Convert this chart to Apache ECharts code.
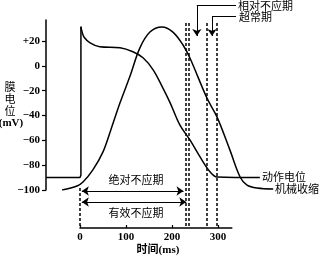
<!DOCTYPE html>
<html>
<head>
<meta charset="utf-8">
<script src="https://cdn.jsdelivr.net/npm/echarts@6/dist/echarts.min.js"></script>
<style>html,body{margin:0;padding:0;background:#fff}#c{width:320px;height:259px}</style>
</head>
<body>
<div id="c"></div>
<script>
// ---- data (time in ms, membrane potential in mV) ----
const yTicks = [-100, -80, -60, -40, -20, 0, 20];
const xTicks = [0, 100, 200, 300];
const apTime = [-74, 0, 2, 2, 4, 9, 22, 43, 87, 115, 137, 159, 180, 196, 217, 239, 261, 283, 298, 391];
const apVolt = [-90, -90, -88, 31.5, 28, 23, 18.5, 15.3, 14.5, 11.3, 6.5, -3.2, -17.7, -29.8, -47.6, -59.7, -73.4, -85.5, -89.5, -90];
const mechTime = [-39, -6.5, 6.5, 28, 50, 67, 87, 109, 130, 152, 178, 202, 224, 239, 276, 298, 326, 348, 363, 385, 420];
const mechVolt = [-100, -96.8, -93.6, -83.8, -69.3, -51.6, -29.8, -8, 14.3, 27.2, 31.3, 27.2, 16.8, 6.3, -26, -41.3, -67.9, -89.5, -96, -98.4, -99.2];
const periodBounds = [229, 237, 275, 297];      // dashed boundaries (ms)
const absArrow = [4, 225];                      // 绝对不应期 arrow span
const effArrow = [4, 231];                      // 有效不应期 arrow span
const relPointer = 254;                         // 相对不应期 pointer
const supPointer = 287;                         // 超常期 pointer

// ---- layout (pixels) ----
const PX_T0 = 80, PX_PER_T = 0.46, PY_V0 = 65.83, PX_PER_V = 1.2417;
const tAt = px => (px - PX_T0) / PX_PER_T;
const vAt = py => (PY_V0 - py) / PX_PER_V;

const FONT = "'Liberation Serif','Noto Sans CJK SC'";
const CJK = "'Noto Sans CJK SC'";

const pairs = (xs, ys) => xs.map((x, i) => [x, ys[i]]);
const ap = pairs(apTime, apVolt);
const mech = pairs(mechTime, mechVolt);

const dashTop = vAt(23), axisV = vAt(228);
const dashed = periodBounds.map(t => ({coords: [[t, dashTop], [t, axisV]]}));
dashed.push({coords: [[0, vAt(188)], [0, axisV]]});

const chart = echarts.init(document.getElementById('c'), null, {renderer: 'canvas'});
chart.setOption({
  animation: false,
  backgroundColor: '#fff',
  grid: [
    {left: 46, top: 20, width: 264, height: 170},
    {left: 80, top: 20, width: 330 * PX_PER_T, height: 208},
    {left: 0, top: 0, width: 320, height: 259}
  ],
  xAxis: [
    {gridIndex: 0, type: 'value', min: tAt(46), max: tAt(310), show: false},
    {gridIndex: 1, type: 'value', min: 0, max: 330, interval: 100, position: 'bottom',
      axisLine: {show: true, onZero: false, lineStyle: {color: '#000', width: 1.5}},
      axisTick: {show: true, inside: true, length: 3, lineStyle: {color: '#000', width: 1.2}, customValues: xTicks},
      axisLabel: {color: '#000', fontFamily: FONT, fontSize: 11, fontWeight: 'bold', margin: 4, customValues: xTicks},
      splitLine: {show: false}},
    {gridIndex: 2, type: 'value', min: tAt(0), max: tAt(320), show: false}
  ],
  yAxis: [
    {gridIndex: 0, type: 'value', min: -100, max: vAt(20), interval: 20,
      axisLine: {show: true, onZero: false, lineStyle: {color: '#000', width: 1.5}},
      axisTick: {show: true, length: 4, lineStyle: {color: '#000', width: 1.2}, customValues: yTicks},
      axisLabel: {color: '#000', fontFamily: FONT, fontSize: 11, fontWeight: 'bold', margin: 6, customValues: yTicks,
        formatter: v => v > 0 ? '+' + v : (v < 0 ? '\u2212' + Math.abs(v) : '0')},
      splitLine: {show: false}},
    {gridIndex: 1, type: 'value', min: vAt(228), max: vAt(20), show: false},
    {gridIndex: 2, type: 'value', min: vAt(259), max: vAt(0), show: false}
  ],
  series: [
    {type: 'line', xAxisIndex: 0, yAxisIndex: 0, data: ap.slice(0, 4), showSymbol: false, symbol: 'none',
      lineStyle: {color: '#000', width: 1.5}},
    {type: 'line', xAxisIndex: 0, yAxisIndex: 0, data: ap.slice(3), showSymbol: false, symbol: 'none', smooth: 0.35,
      lineStyle: {color: '#000', width: 1.5}},
    {type: 'line', xAxisIndex: 0, yAxisIndex: 0, data: mech, showSymbol: false, symbol: 'none', smooth: 0.35,
      lineStyle: {color: '#000', width: 1.5}},
    {type: 'lines', coordinateSystem: 'cartesian2d', xAxisIndex: 2, yAxisIndex: 2, clip: false,
      data: dashed, symbol: 'none',
      lineStyle: {color: '#000', width: 1.5, type: [3, 2], opacity: 1}},
    {type: 'lines', coordinateSystem: 'cartesian2d', xAxisIndex: 2, yAxisIndex: 2, clip: false,
      symbol: ['arrow', 'arrow'], symbolSize: [7, 7],
      data: [
        {coords: [[absArrow[0], vAt(191)], [absArrow[1], vAt(191)]]},
        {coords: [[effArrow[0], vAt(202)], [effArrow[1], vAt(202)]]}
      ],
      lineStyle: {color: '#000', width: 1, opacity: 1}},
    {type: 'lines', coordinateSystem: 'cartesian2d', xAxisIndex: 2, yAxisIndex: 2, clip: false,
      symbol: 'none',
      data: [
        {coords: [[relPointer, vAt(5)], [tAt(236), vAt(5)]]},
        {coords: [[supPointer, vAt(16)], [tAt(236), vAt(16)]]}
      ],
      lineStyle: {color: '#000', width: 1, opacity: 1}},
    {type: 'lines', coordinateSystem: 'cartesian2d', xAxisIndex: 2, yAxisIndex: 2, clip: false,
      symbol: ['none', 'arrow'], symbolSize: [7, 7],
      data: [
        {coords: [[relPointer, vAt(5)], [relPointer, vAt(36)]]},
        {coords: [[supPointer, vAt(16)], [supPointer, vAt(36)]]}
      ],
      lineStyle: {color: '#000', width: 1, opacity: 1}}
  ],
  graphic: [
    {type: 'text', x: 10, y: 87, style: {text: '膜', font: '11px ' + CJK, fill: '#000', align: 'center', verticalAlign: 'middle'}},
    {type: 'text', x: 10, y: 99, style: {text: '电', font: '11px ' + CJK, fill: '#000', align: 'center', verticalAlign: 'middle'}},
    {type: 'text', x: 10, y: 111, style: {text: '位', font: '11px ' + CJK, fill: '#000', align: 'center', verticalAlign: 'middle'}},
    {type: 'text', x: 11, y: 123, style: {text: '(mV)', font: 'bold 11px ' + FONT, fill: '#000', align: 'center', verticalAlign: 'middle'}},
    {type: 'text', x: 158, y: 250, style: {text: '时间(ms)', font: 'bold 11px ' + FONT, fill: '#000', align: 'center', verticalAlign: 'middle'}},
    {type: 'text', x: 136, y: 180, style: {text: '绝对不应期', font: '11px ' + CJK, fill: '#000', align: 'center', verticalAlign: 'middle'}},
    {type: 'text', x: 136, y: 213, style: {text: '有效不应期', font: '11px ' + CJK, fill: '#000', align: 'center', verticalAlign: 'middle'}},
    {type: 'text', x: 238, y: 6, style: {text: '相对不应期', font: '11px ' + CJK, fill: '#000', align: 'left', verticalAlign: 'middle'}},
    {type: 'text', x: 239, y: 17, style: {text: '超常期', font: '11px ' + CJK, fill: '#000', align: 'left', verticalAlign: 'middle'}},
    {type: 'text', x: 262, y: 177, style: {text: '动作电位', font: '11px ' + CJK, fill: '#000', align: 'left', verticalAlign: 'middle'}},
    {type: 'text', x: 275, y: 189, style: {text: '机械收缩', font: '11px ' + CJK, fill: '#000', align: 'left', verticalAlign: 'middle'}}
  ]
});
</script>
</body>
</html>
